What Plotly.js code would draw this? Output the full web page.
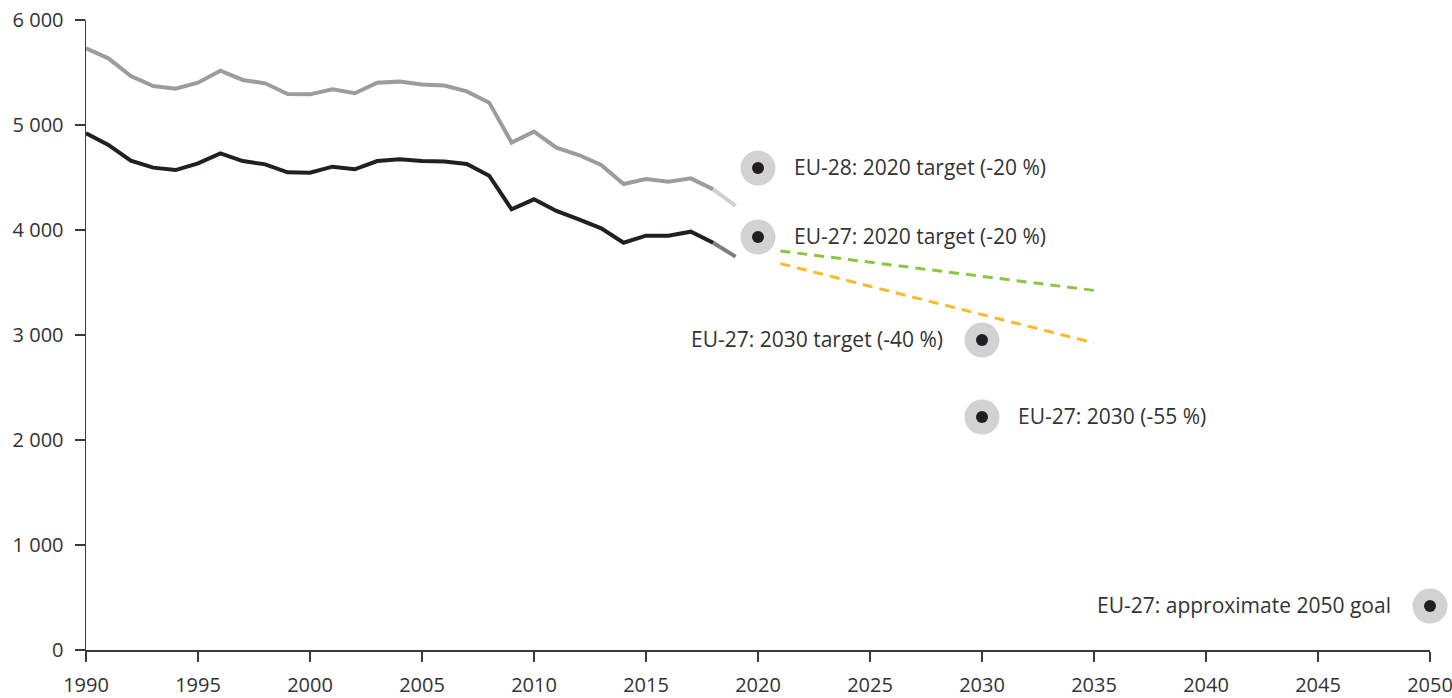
<!DOCTYPE html>
<html>
<head>
<meta charset="utf-8">
<script src="https://cdn.plot.ly/plotly-3.0.1.min.js"></script>
<style>
  html, body { margin: 0; padding: 0; background: #fff; }
  #chart { width: 1452px; height: 698px; }
</style>
</head>
<body>
<div id="chart"></div>
<script>
const years = [1990, 1991, 1992, 1993, 1994, 1995, 1996, 1997, 1998, 1999,
  2000, 2001, 2002, 2003, 2004, 2005, 2006, 2007, 2008, 2009,
  2010, 2011, 2012, 2013, 2014, 2015, 2016, 2017, 2018];

const eu28 = [5730, 5635, 5467, 5371, 5346, 5403, 5517, 5429, 5397, 5295,
  5292, 5340, 5302, 5403, 5413, 5385, 5376, 5320, 5213, 4833,
  4937, 4784, 4714, 4619, 4438, 4486, 4460, 4492, 4387];

const eu27 = [4921, 4810, 4660, 4594, 4571, 4635, 4730, 4657, 4625, 4549,
  4546, 4603, 4578, 4657, 4673, 4657, 4652, 4628, 4517, 4197,
  4292, 4181, 4102, 4016, 3879, 3946, 3946, 3984, 3879];

// proxy estimate for the last year
const proxyYears = [2018, 2019];
const eu28Proxy = [4387, 4229];
const eu27Proxy = [3879, 3746];

// projections
const projYears = [2021, 2035];
const wemValues = [3800, 3425];
const wamValues = [3680, 2925];

// targets
const targetYears = [2020, 2020, 2030, 2030, 2050];
const targetValues = [4590, 3933, 2952, 2219, 419];
const targetLabels = [
  "EU-28: 2020 target (-20 %)",
  "EU-27: 2020 target (-20 %)",
  "EU-27: 2030 target (-40 %)",
  "EU-27: 2030 (-55 %)",
  "EU-27: approximate 2050 goal"
];
const targetSide = ["right", "right", "left", "right", "left"];

const FONT = "'Open Sans', 'Noto Sans', sans-serif";
const inkColor = "#231f20";

const traces = [
  {
    x: years, y: eu28, type: "scatter", mode: "lines",
    line: { color: "#9c9c9c", width: 4 }, hoverinfo: "skip"
  },
  {
    x: proxyYears, y: eu28Proxy, type: "scatter", mode: "lines",
    line: { color: "#d0d0d0", width: 4 }, hoverinfo: "skip"
  },
  {
    x: years, y: eu27, type: "scatter", mode: "lines",
    line: { color: inkColor, width: 4 }, hoverinfo: "skip"
  },
  {
    x: proxyYears, y: eu27Proxy, type: "scatter", mode: "lines",
    line: { color: "#7d7d7d", width: 4 }, hoverinfo: "skip"
  },
  {
    x: projYears, y: wemValues, type: "scatter", mode: "lines",
    line: { color: "#8cc63f", width: 3, dash: "10px,7px" }, hoverinfo: "skip"
  },
  {
    x: projYears, y: wamValues, type: "scatter", mode: "lines",
    line: { color: "#fdb92c", width: 3, dash: "10px,7px" }, hoverinfo: "skip"
  },
  {
    x: targetYears, y: targetValues, type: "scatter", mode: "markers",
    marker: { size: 35, color: "#d2d2d4", line: { width: 0 } },
    cliponaxis: false, hoverinfo: "skip"
  },
  {
    x: targetYears, y: targetValues, type: "scatter", mode: "markers",
    marker: { size: 12, color: inkColor, line: { width: 0 } },
    cliponaxis: false, hoverinfo: "skip"
  }
];

const annotations = targetLabels.map((label, i) => ({
  x: targetYears[i],
  y: targetValues[i],
  xref: "x",
  yref: "y",
  text: label,
  showarrow: false,
  xanchor: targetSide[i] === "right" ? "left" : "right",
  xshift: targetSide[i] === "right" ? 34 : -37,
  yshift: 1,
  font: { family: FONT, size: 21, color: "#333333" }
}));

const axisStyle = {
  showgrid: false,
  zeroline: false,
  showline: true,
  linecolor: "#3a3a3a",
  linewidth: 1.5,
  ticks: "outside",
  ticklen: 10,
  tickwidth: 1.5,
  tickcolor: "#3a3a3a",
  ticklabeloverflow: "allow",
  tickfont: { family: FONT, size: 20, color: "#333333" }
};

const layout = {
  width: 1452,
  height: 698,
  margin: { l: 86, r: 22, t: 20, b: 48 },
  paper_bgcolor: "#ffffff",
  plot_bgcolor: "#ffffff",
  showlegend: false,
  separators: ". ",
  font: { family: FONT, size: 20, color: inkColor },
  xaxis: Object.assign({}, axisStyle, {
    range: [1990, 2050],
    tickmode: "linear",
    tick0: 1990,
    dtick: 5,
    ticklabelstandoff: 6
  }),
  yaxis: Object.assign({}, axisStyle, {
    range: [0, 6000],
    tickmode: "linear",
    tick0: 0,
    dtick: 1000,
    tickformat: ",d",
    ticklabelstandoff: 7
  }),
  annotations: annotations
};

Plotly.newPlot("chart", traces, layout, { displayModeBar: false, staticPlot: true });
</script>
</body>
</html>
